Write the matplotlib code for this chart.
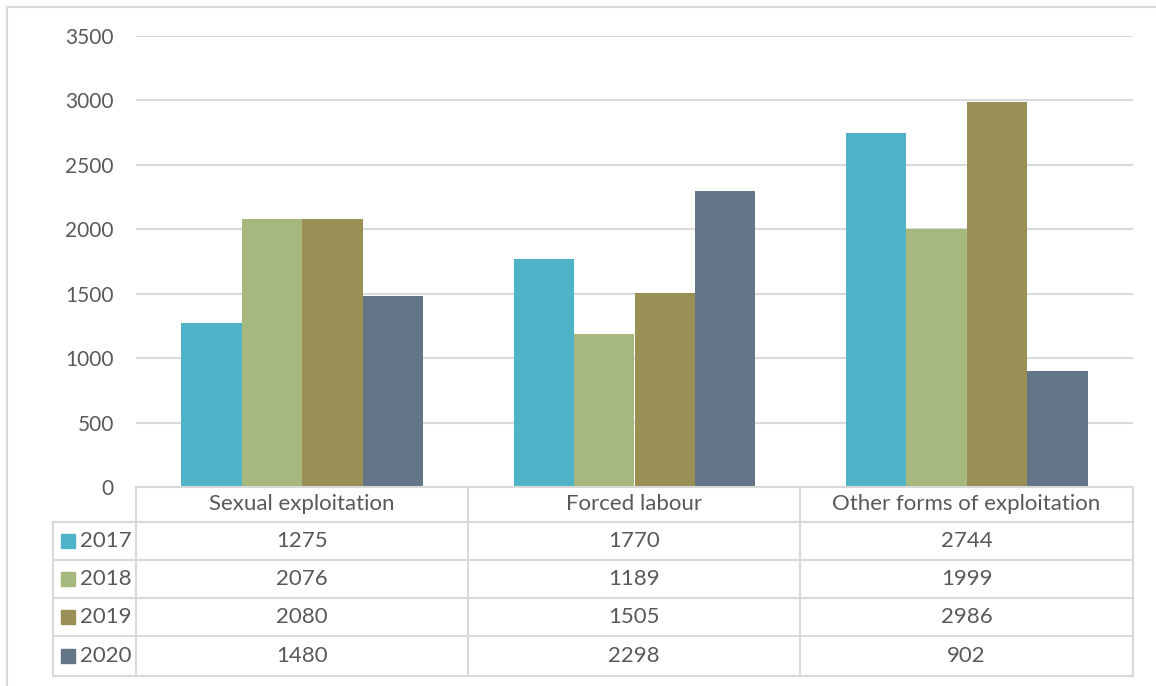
import matplotlib.pyplot as plt
import numpy as np
from matplotlib.lines import Line2D
from matplotlib.patches import Rectangle

categories = ['Sexual exploitation', 'Forced labour', 'Other forms of exploitation']
years = ['2017', '2018', '2019', '2020']
v2017 = [1275, 1770, 2744]
v2018 = [2076, 1189, 1999]
v2019 = [2080, 1505, 2986]
v2020 = [1480, 2298, 902]
series = [v2017, v2018, v2019, v2020]
colors = ['#4FB3C8', '#A7B87F', '#9A8F55', '#637587']

W, H = 1156, 686
txt = '#595959'
grid = '#D9D9D9'
plt.rcParams['font.family'] = ['Lato', 'DejaVu Sans']

fig = plt.figure(figsize=(W / 100, H / 100), dpi=100)

# pixel helpers (origin top-left)
def fx(px):
    return px / W

def fy(py):
    return 1 - py / H

x0, x1, ytop, y0 = 136, 1133, 36, 487
ax = fig.add_axes([fx(x0), fy(y0), fx(x1) - fx(x0), fy(ytop) - fy(y0)])

bw = 0.182
x = np.arange(len(categories))
for i, (vals, c) in enumerate(zip(series, colors)):
    ax.bar(x + (i - 1.5) * bw, vals, width=bw, color=c, zorder=3)

ax.set_xlim(-0.5, len(categories) - 0.5)
ax.set_ylim(0, 3500)
ax.set_yticks(np.arange(0, 3501, 500))
ax.yaxis.grid(True, color=grid, linewidth=1.5, zorder=0)
ax.set_xticks([])
ax.tick_params(axis='y', length=0, pad=16, labelsize=15, labelcolor=txt)
for s in ax.spines.values():
    s.set_visible(False)

# outer frame (top and left edges)
fig.add_artist(Line2D([fx(7), 1], [fy(7), fy(7)], color=grid, lw=1.5))
fig.add_artist(Line2D([fx(7), fx(7)], [fy(7), 0], color=grid, lw=1.5))

# data table
col_edges = [x0, 468, 800, x1]
row_edges = [487, 522, 560, 598, 636, 676]
left = 53
fs = 16

def hline(y, xa, xb):
    fig.add_artist(Line2D([fx(xa), fx(xb)], [fy(y), fy(y)], color=grid, lw=1.5))

def vline(xp, ya, yb):
    fig.add_artist(Line2D([fx(xp), fx(xp)], [fy(ya), fy(yb)], color=grid, lw=1.5))

hline(row_edges[0], x0, x1)
for r in row_edges[1:]:
    hline(r, left, x1)
vline(left, row_edges[1], row_edges[-1])
for c in col_edges:
    vline(c, row_edges[0], row_edges[-1])

for j, cat in enumerate(categories):
    cx = (col_edges[j] + col_edges[j + 1]) / 2
    cy = (row_edges[0] + row_edges[1]) / 2
    fig.text(fx(cx), fy(cy), cat, ha='center', va='center', fontsize=fs, color=txt)

for i, (yr, vals, c) in enumerate(zip(years, series, colors)):
    cy = (row_edges[i + 1] + row_edges[i + 2]) / 2
    fig.add_artist(Rectangle((fx(61), fy(cy + 7)), fx(14), fy(0) - fy(14),
                             color=c, transform=fig.transFigure))
    fig.text(fx(80), fy(cy), yr, ha='left', va='center', fontsize=fs, color=txt)
    for j, v in enumerate(vals):
        cx = (col_edges[j] + col_edges[j + 1]) / 2
        fig.text(fx(cx), fy(cy), str(v), ha='center', va='center', fontsize=fs, color=txt)

fig.savefig('out.png', dpi=100)
